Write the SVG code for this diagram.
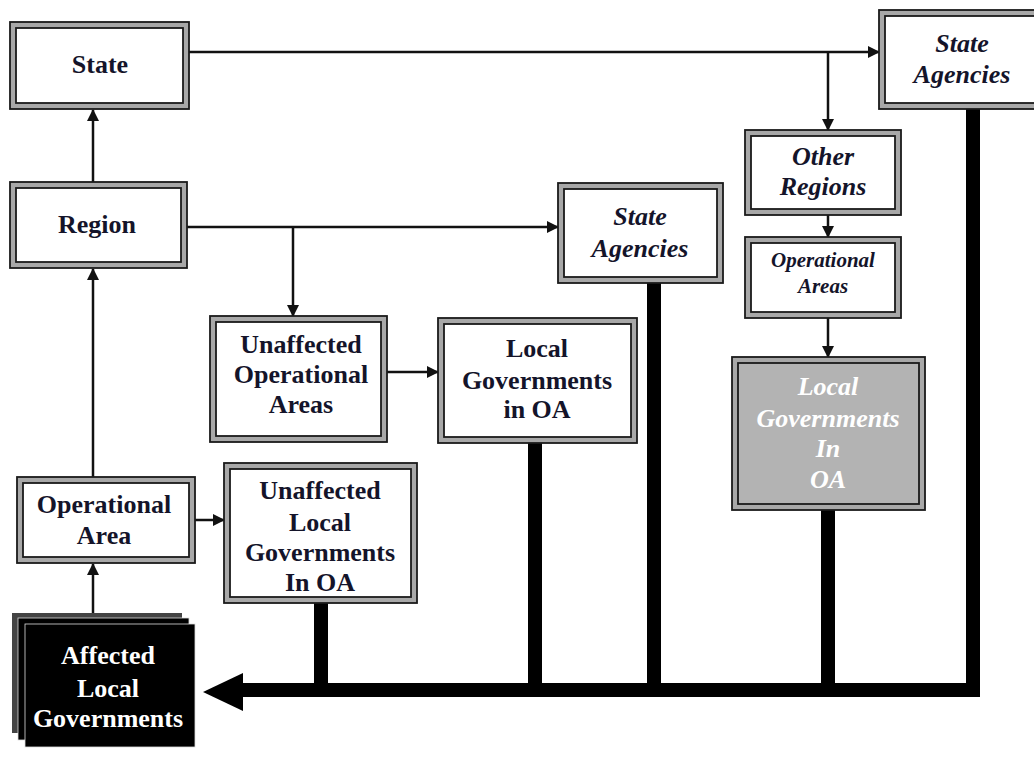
<svg xmlns="http://www.w3.org/2000/svg" width="1034" height="770" viewBox="0 0 1034 770">
<style>
  .outer { fill: #a8a8a8; stroke: #1a1a1a; stroke-width: 1.8; }
  .inner { fill: #ffffff; stroke: #1a1a1a; stroke-width: 1.8; }
  .innerg { fill: #b3b3b3; stroke: #1a1a1a; stroke-width: 1.8; }
  .t { font-family: "Liberation Serif", "Times New Roman", serif; font-weight: bold; font-size: 26px; fill: #14142a; text-anchor: middle; }
  .i { font-style: italic; }
  .s { font-size: 21px; }
  .w { fill: #ffffff; }
  .thin { stroke: #111; stroke-width: 2.5; fill: none; }
  .thick { stroke: #000; stroke-width: 14; fill: none; }
</style>
<defs>
  <marker id="ah" markerUnits="userSpaceOnUse" markerWidth="12" markerHeight="12" viewBox="0 0 12 12" refX="11" refY="6" orient="auto">
    <path d="M0,0 L12,6 L0,12 Z" fill="#111"/>
  </marker>
</defs>
<rect width="1034" height="770" fill="#ffffff"/>

<g id="connectors">
  <line class="thin" x1="189" y1="52" x2="879" y2="52" marker-end="url(#ah)"/>
  <line class="thin" x1="828" y1="52" x2="828" y2="130" marker-end="url(#ah)"/>
  <line class="thin" x1="828" y1="215" x2="828" y2="237" marker-end="url(#ah)"/>
  <line class="thin" x1="828" y1="318" x2="828" y2="357" marker-end="url(#ah)"/>
  <line class="thin" x1="93" y1="182" x2="93" y2="110" marker-end="url(#ah)"/>
  <line class="thin" x1="187" y1="227" x2="558" y2="227" marker-end="url(#ah)"/>
  <line class="thin" x1="293" y1="227" x2="293" y2="316" marker-end="url(#ah)"/>
  <line class="thin" x1="387" y1="372" x2="438" y2="372" marker-end="url(#ah)"/>
  <line class="thin" x1="93" y1="477" x2="93" y2="269" marker-end="url(#ah)"/>
  <line class="thin" x1="190" y1="520" x2="224" y2="520" marker-end="url(#ah)"/>
  <line class="thin" x1="93" y1="616" x2="93" y2="564" marker-end="url(#ah)"/>
  <path class="thick" d="M973,109 V690 H240"/>
  <polygon points="203,692 243,673 243,711" fill="#000"/>
  <line class="thick" x1="321" y1="603" x2="321" y2="690"/>
  <line class="thick" x1="535" y1="443" x2="535" y2="690"/>
  <line class="thick" x1="654" y1="283" x2="654" y2="690"/>
  <line class="thick" x1="828" y1="510" x2="828" y2="690"/>
</g>

<g id="state">
  <rect class="outer" x="10" y="22" width="179" height="87"/>
  <rect class="inner" x="16" y="28" width="167" height="75"/>
  <text class="t" x="100" y="73">State</text>
</g>

<g id="state-agencies-top">
  <rect class="outer" x="879" y="10" width="170" height="99"/>
  <rect class="inner" x="885" y="16" width="158" height="87"/>
  <text class="t i" x="962" y="52">State</text>
  <text class="t i" x="962" y="83">Agencies</text>
</g>

<g id="other-regions">
  <rect class="outer" x="745" y="130" width="156" height="85"/>
  <rect class="inner" x="751" y="136" width="144" height="73"/>
  <text class="t i" x="823" y="165">Other</text>
  <text class="t i" x="823" y="195">Regions</text>
</g>

<g id="operational-areas-other">
  <rect class="outer" x="745" y="237" width="156" height="81"/>
  <rect class="inner" x="751" y="243" width="144" height="69"/>
  <text class="t i s" x="823" y="267">Operational</text>
  <text class="t i s" x="823" y="293">Areas</text>
</g>

<g id="local-gov-other">
  <rect class="outer" x="732" y="357" width="193" height="153"/>
  <rect class="innerg" x="738" y="363" width="181" height="141"/>
  <text class="t i w" x="828" y="395">Local</text>
  <text class="t i w" x="828" y="427">Governments</text>
  <text class="t i w" x="828" y="457">In</text>
  <text class="t i w" x="828" y="488">OA</text>
</g>

<g id="region">
  <rect class="outer" x="10" y="182" width="177" height="86"/>
  <rect class="inner" x="16" y="188" width="165" height="74"/>
  <text class="t" x="97" y="233">Region</text>
</g>

<g id="state-agencies-mid">
  <rect class="outer" x="558" y="183" width="165" height="100"/>
  <rect class="inner" x="564" y="189" width="153" height="88"/>
  <text class="t i" x="640" y="225">State</text>
  <text class="t i" x="640" y="257">Agencies</text>
</g>

<g id="unaffected-oa">
  <rect class="outer" x="210" y="316" width="177" height="126"/>
  <rect class="inner" x="216" y="322" width="165" height="114"/>
  <text class="t" x="301" y="353">Unaffected</text>
  <text class="t" x="301" y="383">Operational</text>
  <text class="t" x="301" y="413">Areas</text>
</g>

<g id="local-gov-oa">
  <rect class="outer" x="438" y="318" width="199" height="125"/>
  <rect class="inner" x="444" y="324" width="187" height="113"/>
  <text class="t" x="537" y="357">Local</text>
  <text class="t" x="537" y="389">Governments</text>
  <text class="t" x="537" y="418">in OA</text>
</g>

<g id="unaffected-local-gov">
  <rect class="outer" x="224" y="463" width="193" height="140"/>
  <rect class="inner" x="230" y="469" width="181" height="128"/>
  <text class="t" x="320" y="499">Unaffected</text>
  <text class="t" x="320" y="531">Local</text>
  <text class="t" x="320" y="561">Governments</text>
  <text class="t" x="320" y="591">In OA</text>
</g>

<g id="operational-area">
  <rect class="outer" x="17" y="477" width="178" height="86"/>
  <rect class="inner" x="23" y="483" width="166" height="74"/>
  <text class="t" x="104" y="513">Operational</text>
  <text class="t" x="104" y="544">Area</text>
</g>

<g id="affected-local-gov">
  <rect x="12" y="613" width="170" height="120" fill="#444"/>
  <rect x="18" y="618" width="171" height="122" fill="#000" stroke="#ddd" stroke-width="0.8"/>
  <rect x="25" y="624" width="170" height="123" fill="#000" stroke="#ddd" stroke-width="0.8"/>
  <text class="t w" x="108" y="664">Affected</text>
  <text class="t w" x="108" y="697">Local</text>
  <text class="t w" x="108" y="727">Governments</text>
</g>
</svg>
